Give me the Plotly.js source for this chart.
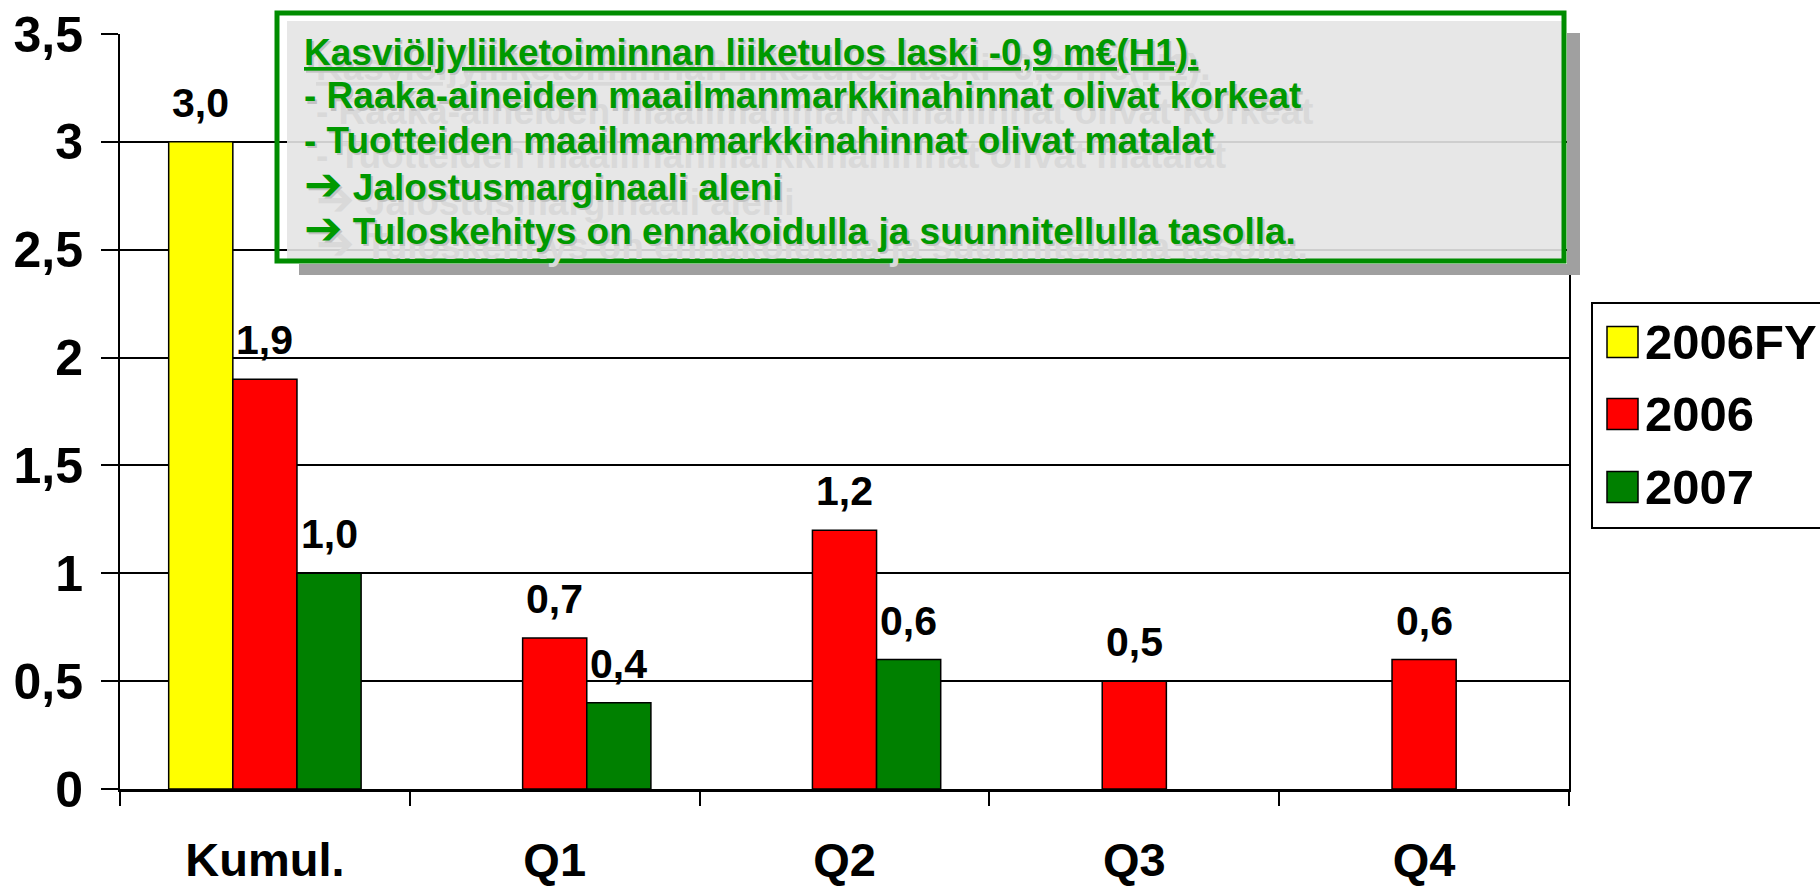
<!DOCTYPE html>
<html>
<head>
<meta charset="utf-8">
<script src="https://cdn.plot.ly/plotly-3.0.1.min.js"></script>
<style>html,body{margin:0;padding:0;background:#fff;}#chart{width:1820px;height:886px;}</style>
</head>
<body>
<div id="chart"></div>
<script>
const categories = ['Kumul.', 'Q1', 'Q2', 'Q3', 'Q4'];
const seriesNames = ['2006FY', '2006', '2007'];
const values2006FY = [3.0, null, null, null, null];
const values2006 = [1.9, 0.7, 1.2, 0.5, 0.6];
const values2007 = [1.0, 0.4, 0.6, null, null];
const seriesColors = ['#FFFF00', '#FF0000', '#008000'];
const ARROW = '<span style="font-size:46px;font-family:DejaVu Sans">➔</span>';
const noteLines = [
  '<u>Kasviöljyliiketoiminnan liiketulos laski -0,9 m€(H1).</u>',
  '- Raaka-aineiden maailmanmarkkinahinnat olivat korkeat',
  '- Tuotteiden maailmanmarkkinahinnat olivat matalat',
  ARROW + ' Jalostusmarginaali aleni',
  ARROW + ' Tuloskehitys on ennakoidulla ja suunnitellulla tasolla.'
];

const allSeries = [values2006FY, values2006, values2007];

// plot geometry (pixels)
const W = 1820, H = 886;
const L = 120, R = 1569, T = 34, B = 789;
const px = x => (x - L) / (R - L);
const py = y => (B - y) / (B - T);

const FONT = 'Liberation Sans, Arial, sans-serif';
const bargap = 0.336;
const nS = allSeries.length;
const bw = (1 - bargap) / nS;

const traces = allSeries.map((vals, k) => ({
  type: 'bar',
  name: seriesNames[k],
  x: categories,
  y: vals,
  marker: {color: seriesColors[k], line: {color: '#000', width: 1.5}},
  hoverinfo: 'skip',
  showlegend: false
}));

const annotations = [];
// data labels
allSeries.forEach((vals, k) => {
  vals.forEach((v, i) => {
    if (v === null) return;
    annotations.push({
      xref: 'x', yref: 'y',
      x: i + (k - (nS - 1) / 2) * bw,
      y: v,
      text: v.toFixed(1).replace('.', ','),
      showarrow: false,
      xanchor: 'center', yanchor: 'bottom',
      yshift: 14,
      font: {family: FONT, size: 41, color: '#000', weight: 'bold'}
    });
  });
});

// note text lines: far faint shadow, close drop shadow, main text
const lineY = [52, 96, 140, 184, 228];
const noteLayers = [
  {dx: 12, dy: 15, color: '#d9d9d9'},
  {dx: 2, dy: 2, color: '#c2c2c2'},
  {dx: 0, dy: 0, color: '#009900'}
];
noteLayers.forEach(layer => {
  noteLines.forEach((t, i) => {
    annotations.push({
      xref: 'paper', yref: 'paper',
      x: px(302 + layer.dx), y: py(lineY[i] + layer.dy),
      text: t, showarrow: false, xanchor: 'left', yanchor: 'middle',
      font: {family: FONT, size: 37, color: layer.color, weight: 'bold'}
    });
  });
});

// legend labels
const legY = [342, 414, 487];
seriesNames.forEach((n, k) => {
  annotations.push({
    xref: 'paper', yref: 'paper',
    x: px(1643), y: py(legY[k]),
    text: n, showarrow: false, xanchor: 'left', yanchor: 'middle',
    font: {family: FONT, size: 49, color: '#000', weight: 'bold'}
  });
});

const shapes = [
  // note light fill
  {type: 'rect', xref: 'paper', yref: 'paper', layer: 'above',
   x0: px(287), x1: px(1566), y0: py(21), y1: py(263),
   fillcolor: 'rgba(228,228,228,0.9)', line: {width: 0}},
  // note shadow (bottom and right strips)
  {type: 'rect', xref: 'paper', yref: 'paper', layer: 'above',
   x0: px(299), x1: px(1580), y0: py(264), y1: py(275),
   fillcolor: '#A0A0A0', line: {width: 0}},
  {type: 'rect', xref: 'paper', yref: 'paper', layer: 'above',
   x0: px(1567), x1: px(1580), y0: py(33), y1: py(275),
   fillcolor: '#A0A0A0', line: {width: 0}},
  // green border
  {type: 'rect', xref: 'paper', yref: 'paper', layer: 'above',
   x0: px(277), x1: px(1564), y0: py(13), y1: py(261),
   fillcolor: 'rgba(0,0,0,0)', line: {color: '#008C00', width: 5}},
  // legend box
  {type: 'rect', xref: 'paper', yref: 'paper', layer: 'above',
   x0: px(1592), x1: px(1840), y0: py(303), y1: py(528),
   fillcolor: '#fff', line: {color: '#000', width: 2}}
];
seriesColors.forEach((c, k) => {
  shapes.push({type: 'rect', xref: 'paper', yref: 'paper', layer: 'above',
    x0: px(1607), x1: px(1638), y0: py(legY[k] - 15.5), y1: py(legY[k] + 15.5),
    fillcolor: c, line: {color: '#000', width: 1.5}});
});

const layout = {
  width: W, height: H,
  margin: {l: L, r: W - R, t: T, b: H - B, pad: 0},
  paper_bgcolor: '#fff', plot_bgcolor: '#fff',
  separators: ', ',
  barmode: 'group', bargap: bargap, bargroupgap: 0,
  showlegend: false,
  font: {family: FONT, color: '#000'},
  xaxis: {
    type: 'category', range: [-0.5, 4.5],
    showline: true, linecolor: '#000', linewidth: 3,
    ticks: 'outside', tickson: 'boundaries', ticklen: 14, tickwidth: 2, tickcolor: '#000',
    showgrid: false, zeroline: false,
    tickfont: {family: FONT, size: 47, color: '#000', weight: 'bold'},
    ticklabelstandoff: 28,
    fixedrange: true
  },
  yaxis: {
    range: [0, 3.5], dtick: 0.5, tick0: 0,
    showline: true, mirror: true, linecolor: '#000', linewidth: 2,
    ticks: 'outside', ticklen: 17, tickwidth: 2, tickcolor: '#000',
    showgrid: true, gridcolor: '#000', gridwidth: 2,
    zeroline: false,
    tickfont: {family: FONT, size: 50, color: '#000', weight: 'bold'},
    ticklabelstandoff: 8,
    fixedrange: true
  },
  annotations: annotations,
  shapes: shapes
};

Plotly.newPlot('chart', traces, layout, {staticPlot: true, displayModeBar: false});
</script>
</body>
</html>
